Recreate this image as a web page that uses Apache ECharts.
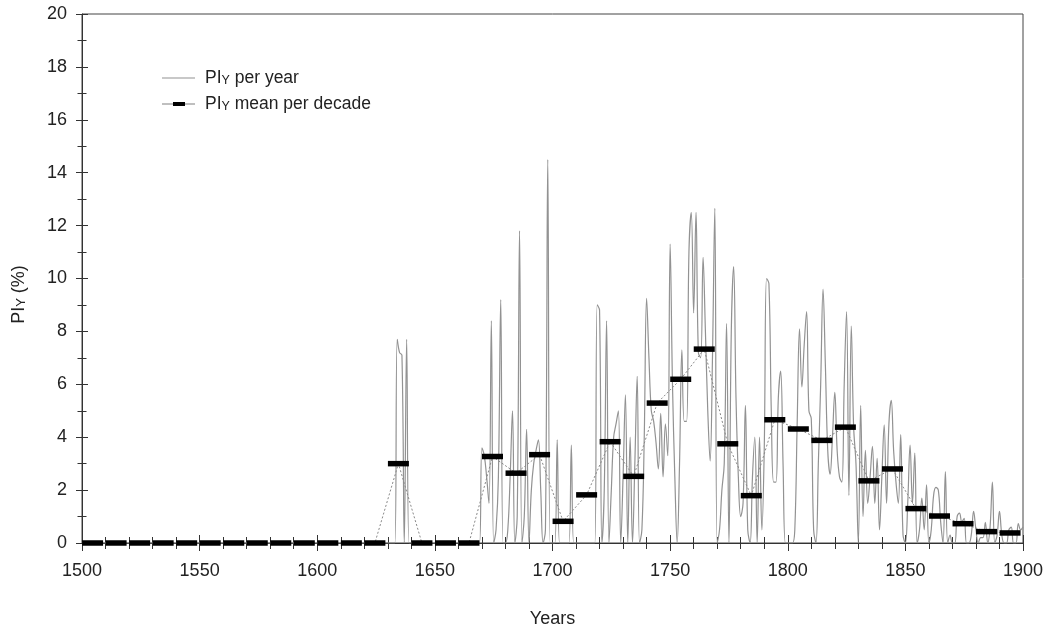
<!DOCTYPE html>
<html>
<head>
<meta charset="utf-8">
<script src="https://cdn.jsdelivr.net/npm/echarts@6/dist/echarts.min.js"></script>
<style>
html,body{margin:0;padding:0;background:#fff;}
#chart{width:1057px;height:631px;}
</style>
</head>
<body>
<div id="chart"></div>
<script>
// ---- data ----
const startYear = 1500;
// PIY per year, 1500 .. 1900 (one row per decade)
const perYear = [
  0,0,0,0,0,0,0,0,0,0,          // 1500
  0,0,0,0,0,0,0,0,0,0,          // 1510
  0,0,0,0,0,0,0,0,0,0,          // 1520
  0,0,0,0,0,0,0,0,0,0,          // 1530
  0,0,0,0,0,0,0,0,0,0,          // 1540
  0,0,0,0,0,0,0,0,0,0,          // 1550
  0,0,0,0,0,0,0,0,0,0,          // 1560
  0,0,0,0,0,0,0,0,0,0,          // 1570
  0,0,0,0,0,0,0,0,0,0,          // 1580
  0,0,0,0,0,0,0,0,0,0,          // 1590
  0,0,0,0,0,0,0,0,0,0,          // 1600
  0,0,0,0,0,0,0,0,0,0,          // 1610
  0,0,0,0,0,0,0,0,0,0,          // 1620
  0,0,0,0,7.7,7.2,7.1,0,7.7,0,  // 1630
  0,0,0,0,0,0,0,0,0,0,          // 1640
  0,0,0,0,0,0,0,0,0,0,          // 1650
  0,0,0,0,0,0,0,0,0,0,          // 1660
  3.6,3.3,2.5,1.5,8.4,0,0.5,2.5,9.2,0,       // 1670
  0,0.5,2.5,5.0,0,1.0,11.8,0,1.0,4.3,        // 1680
  0,2.0,3.0,3.5,3.9,2.0,0,0.5,14.5,0,        // 1690
  0,0,3.9,0,0,0,0,0,3.7,0,                   // 1700
  0,0,0,0,0,0,0,0,0,9.0,                     // 1710
  8.8,0,2.0,8.4,0,2.0,4.0,4.5,5.0,0,         // 1720
  2.5,5.6,0,4.0,0,3.0,6.3,0,0.5,4.0,         // 1730
  9.25,7.0,5.0,4.6,3.8,2.8,4.9,2.5,4.5,3.3,  // 1740
  11.3,6.0,2.5,0,3.0,7.3,4.6,4.6,11.0,12.5,  // 1750
  8.7,12.5,7.2,7.0,10.8,8.0,5.0,3.1,7.0,12.65, // 1760
  0,0.5,2.0,3.0,8.3,0,8.0,10.45,5.5,2.5,     // 1770
  1.0,1.5,5.2,0.5,0,2.5,4.0,0,4.0,0.5,       // 1780
  3.5,10.0,9.8,5.0,2.3,2.3,5.5,6.5,3.0,0,    // 1790
  0,0,0,0.5,4.5,8.1,5.9,7.5,8.75,5.0,        // 1800
  4.7,0.5,0,3.0,6.0,9.6,6.7,3.5,2.6,4.0,     // 1810
  5.7,3.5,2.5,2.3,6.0,8.75,1.8,8.2,4.4,3.0,  // 1820
  0,5.2,1.0,3.5,1.5,2.5,3.65,1.5,3.2,0.5,    // 1830
  2.5,4.47,1.5,4.5,5.39,3.5,2.3,1.5,4.1,0.3, // 1840
  0,1.5,3.7,1.5,3.4,0,0.5,1.7,0.5,2.2,       // 1850
  0,0.5,1.8,2.1,2.0,0.8,0,2.7,0,0.3,         // 1860
  0,0,1.0,1.13,0.8,0.93,0,0,0.3,1.2,         // 1870
  0.5,0,0.2,0.2,0.78,0,0.6,2.3,0,0.3,        // 1880
  1.2,0.3,0,0,0.5,0.6,0,0,0.73,0.5,          // 1890
  0.6                                        // 1900
];
const decadeStarts = [
  1500,1510,1520,1530,1540,1550,1560,1570,1580,1590,
  1600,1610,1620,1630,1640,1650,1660,1670,1680,1690,
  1700,1710,1720,1730,1740,1750,1760,1770,1780,1790,
  1800,1810,1820,1830,1840,1850,1860,1870,1880,1890
];
const decadeMeans = [
  0,0,0,0,0,0,0,0,0,0,
  0,0,0,3.0,0,0,0,3.27,2.64,3.34,
  0.82,1.82,3.83,2.52,5.29,6.19,7.33,3.75,1.79,4.66,
  4.31,3.88,4.38,2.35,2.80,1.30,1.02,0.73,0.43,0.38
];
const seriesNames = ['PIY per year', 'PIY mean per decade'];
const xAxisTitle = 'Years';
const yAxisTitle = 'PIY (%)';

// ---- chart ----
const FONT = '"Liberation Sans", Arial, Helvetica, sans-serif';
const AX = '#333';
const TXT = '#222';

const yearData = perYear.map((v, i) => [startYear + i, v]);
const decadeData = decadeStarts.map((d, i) => [d + 4.5, decadeMeans[i]]);

function piyRich(text) {
  return '{a|PI}{y|Y}{a|' + text.slice(3) + '}';
}

const chart = echarts.init(document.getElementById('chart'), null, {renderer: 'canvas'});

const xBase = {
  type: 'value', min: 1500, max: 1900, interval: 50, position: 'bottom',
  splitLine: {show: false}, minorSplitLine: {show: false}
};
const yBase = {
  type: 'value', min: 0, max: 20, interval: 2, position: 'left',
  splitLine: {show: false}, minorSplitLine: {show: false}
};

const option = {
  animation: false,
  backgroundColor: '#fff',
  grid: {
    left: 82, right: 34, top: 14, bottom: 88,
    show: true, borderColor: '#444', borderWidth: 1,
    containLabel: false, outerBoundsMode: 'none'
  },
  legend: {
    orient: 'vertical', left: 157, top: 64,
    itemWidth: 33, itemHeight: 14, itemGap: 8,
    selectedMode: false,
    itemStyle: {borderWidth: 0},
    textStyle: {
      fontFamily: FONT, fontSize: 17.5, color: TXT, padding: [0, 0, 0, 5],
      rich: {
        a: {fontFamily: FONT, fontSize: 17.5, color: TXT},
        y: {fontFamily: FONT, fontSize: 12.5, color: TXT, verticalAlign: 'bottom'}
      }
    },
    formatter: name => piyRich(name),
    data: [
      {name: seriesNames[0], icon: 'path://M0,0H33V1.2H0Z'},
      {name: seriesNames[1], icon: 'path://M0,1.8H11V2.2H0Z M11,0H23V4H11Z M23,1.8H33V2.2H23Z'}
    ]
  },
  xAxis: [
    Object.assign({}, xBase, {
      axisLine: {show: true, lineStyle: {color: AX, width: 1}},
      axisTick: {show: true, length: 8, lineStyle: {color: AX, width: 1}},
      minorTick: {show: true, splitNumber: 5, length: 6, lineStyle: {color: AX, width: 1}},
      axisLabel: {show: true, margin: 19, color: TXT, fontFamily: FONT, fontSize: 18,
                  formatter: v => String(v)},
      name: xAxisTitle, nameLocation: 'middle', nameGap: 67,
      nameTextStyle: {color: TXT, fontFamily: FONT, fontSize: 18}
    }),
    Object.assign({}, xBase, {
      axisLine: {show: false},
      axisTick: {show: true, inside: true, length: 8, lineStyle: {color: AX, width: 1}},
      minorTick: {show: true, splitNumber: 5, length: 6, lineStyle: {color: AX, width: 1}},
      axisLabel: {show: false}
    })
  ],
  yAxis: [
    Object.assign({}, yBase, {
      axisLine: {show: true, lineStyle: {color: AX, width: 1}},
      axisTick: {show: true, length: 6, lineStyle: {color: AX, width: 1}},
      minorTick: {show: true, splitNumber: 2, length: 4.5, lineStyle: {color: AX, width: 1}},
      axisLabel: {show: true, margin: 15, color: TXT, fontFamily: FONT, fontSize: 18},
      name: piyRich(yAxisTitle), nameLocation: 'middle', nameRotate: 90, nameGap: 54,
      nameTextStyle: {
        color: TXT, fontFamily: FONT, fontSize: 18, padding: [0, 32, 0, 0],
        rich: {
          a: {fontFamily: FONT, fontSize: 18, color: TXT},
          y: {fontFamily: FONT, fontSize: 13, color: TXT, verticalAlign: 'bottom'}
        }
      }
    }),
    Object.assign({}, yBase, {
      axisLine: {show: false},
      axisTick: {show: true, inside: true, length: 6, lineStyle: {color: AX, width: 1}},
      minorTick: {show: true, splitNumber: 2, length: 4.5, lineStyle: {color: AX, width: 1}},
      axisLabel: {show: false}
    })
  ],
  series: [
    {
      name: seriesNames[0], type: 'line', xAxisIndex: 0, yAxisIndex: 0,
      data: yearData, symbol: 'none', showSymbol: false, smooth: 0.4,
      color: '#929292',
      lineStyle: {color: '#929292', width: 1.2},
      silent: true, z: 2
    },
    {
      name: seriesNames[1], type: 'line', xAxisIndex: 0, yAxisIndex: 0,
      data: decadeData, symbol: 'rect', symbolSize: [21, 5.5], showAllSymbol: true,
      color: '#000',
      itemStyle: {color: '#000'},
      lineStyle: {color: '#888', width: 1, type: [2, 2]},
      silent: true, z: 3
    }
  ]
};
chart.setOption(option);
</script>
</body>
</html>
